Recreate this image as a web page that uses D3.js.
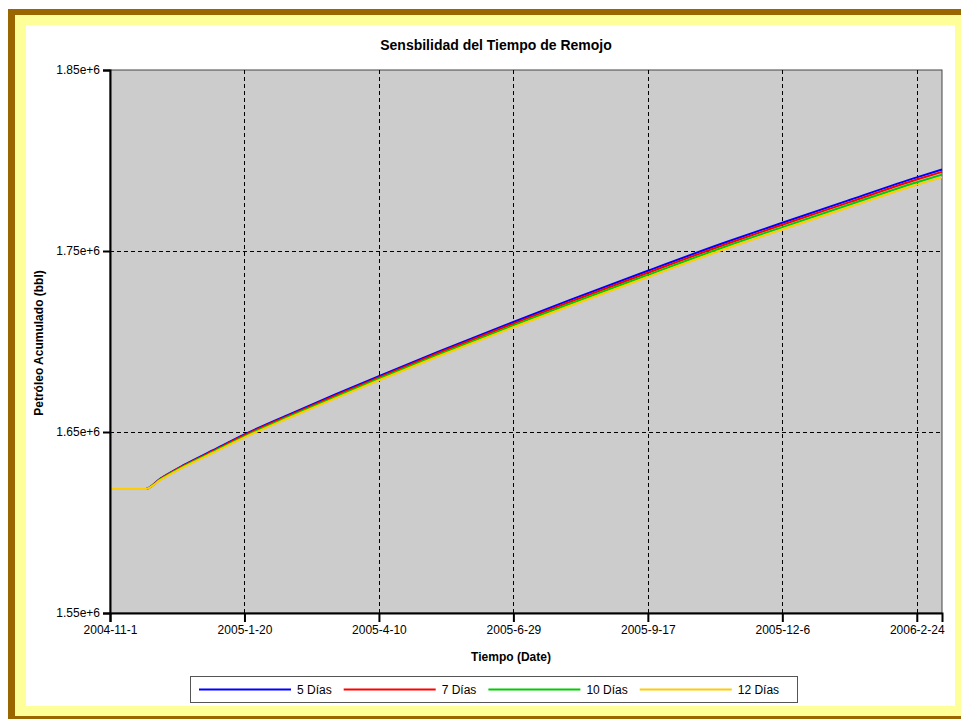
<!DOCTYPE html>
<html lang="es">
<head>
<meta charset="UTF-8">
<title>Sensbilidad del Tiempo de Remojo</title>
<script src="https://d3js.org/d3.v7.min.js"></script>
<style>
  body { margin: 0; background: #fff; }
  svg { display: block; font-family: Arial, "Liberation Sans", sans-serif; }
</style>
</head>
<body>
<div id="chart"></div>
<script>
// datos
const fechas = ["2004-11-01","2004-11-22","2004-12-01","2004-12-15","2005-01-01","2005-01-20",
  "2005-02-15","2005-03-15","2005-04-10","2005-05-15","2005-06-29","2005-08-01","2005-09-17",
  "2005-11-01","2005-12-06","2006-01-15","2006-02-24","2006-03-11"];
const dias5  = [1.6185,1.6185,1.6243,1.6318,1.6398,1.6487,1.6595,1.6707,1.6809,1.6943,1.7108,1.7227,1.7391,1.7544,1.7656,1.7782,1.7907,1.7950];
const dias7  = [1.6185,1.6185,1.6241,1.6315,1.6394,1.6482,1.6589,1.6701,1.6802,1.6935,1.7099,1.7217,1.7380,1.7533,1.7645,1.7770,1.7895,1.7937];
const dias10 = [1.6185,1.6185,1.6238,1.6311,1.6389,1.6476,1.6583,1.6693,1.6794,1.6926,1.7089,1.7206,1.7368,1.7521,1.7632,1.7757,1.7880,1.7922];
const dias12 = [1.6185,1.6185,1.6235,1.6307,1.6384,1.6470,1.6576,1.6686,1.6786,1.6917,1.7079,1.7195,1.7356,1.7508,1.7619,1.7743,1.7866,1.7907];
const nombres = ["5 Días", "7 Días", "10 Días", "12 Días"];
const colores = ["#0000ff", "#ff0000", "#00cc00", "#ffcc00"];
const ticksX = ["2004-11-01","2005-01-20","2005-04-10","2005-06-29","2005-09-17","2005-12-06","2006-02-24"];
const ticksY = [1.55e6, 1.65e6, 1.75e6, 1.85e6];
const fechaFin = "2006-03-11";

const W = 961, H = 719;
const m = { left: 110, right: 942, top: 70, bottom: 613 };
const parse = d3.utcParse("%Y-%m-%d");

const svg = d3.select("#chart").append("svg")
  .attr("width", W).attr("height", H);

// marco
svg.append("rect").attr("x", 8).attr("y", 9).attr("width", 980).attr("height", 720).attr("fill", "#996600");
svg.append("rect").attr("x", 15).attr("y", 15).attr("width", 951).attr("height", 701).attr("fill", "#ffff99");
svg.append("rect").attr("x", 26).attr("y", 25).attr("width", 929).attr("height", 681).attr("fill", "#ffffff");

const x = d3.scaleUtc()
  .domain([parse(fechas[0]), parse(fechaFin)])
  .range([m.left, m.right]);
const y = d3.scaleLinear()
  .domain([ticksY[0], ticksY[ticksY.length - 1]])
  .range([m.bottom, m.top]);

svg.append("rect")
  .attr("x", m.left).attr("y", m.top)
  .attr("width", m.right - m.left).attr("height", m.bottom - m.top)
  .attr("fill", "#cccccc").attr("stroke", "#444").attr("stroke-width", 1);

// rejilla
const grid = svg.append("g").attr("stroke", "#000").attr("stroke-dasharray", "4,3").attr("stroke-width", 1);
grid.selectAll(".gx").data(ticksX.slice(1)).join("line")
  .attr("x1", d => Math.round(x(parse(d))) + 0.5).attr("x2", d => Math.round(x(parse(d))) + 0.5)
  .attr("y1", m.top).attr("y2", m.bottom);
grid.selectAll(".gy").data(ticksY.slice(1, -1)).join("line")
  .attr("y1", d => Math.round(y(d)) + 0.5).attr("y2", d => Math.round(y(d)) + 0.5)
  .attr("x1", m.left).attr("x2", m.right);

// series
const series = [dias5, dias7, dias10, dias12];
const line = d3.line()
  .x((d, i) => x(parse(fechas[i])))
  .y(d => y(d * 1e6))
  .curve(d3.curveMonotoneX);
svg.append("g").selectAll("path").data(series).join("path")
  .attr("d", line)
  .attr("fill", "none")
  .attr("stroke", (d, i) => colores[i])
  .attr("stroke-width", 2);

// ejes
const xAxis = svg.append("g").attr("transform", `translate(0,${m.bottom})`)
  .call(d3.axisBottom(x).tickValues(ticksX.map(parse)).tickSize(9).tickPadding(3)
    .tickFormat(d3.utcFormat("%Y-%-m-%-d")));
const yAxis = svg.append("g").attr("transform", `translate(${m.left},0)`)
  .call(d3.axisLeft(y).tickValues(ticksY).tickSize(7).tickPadding(3)
    .tickFormat(d => (d / 1e6).toFixed(2) + "e+6"));
[xAxis, yAxis].forEach(g => {
  g.select(".domain").attr("stroke", "#000").attr("stroke-width", 2);
  g.selectAll(".tick line").attr("stroke", "#000").attr("stroke-width", 2);
  g.selectAll(".tick text").attr("fill", "#000").style("font-size", "12px")
    .style("font-family", "Arial, 'Liberation Sans', sans-serif");
});

// textos
svg.append("text").attr("x", 496).attr("y", 50).attr("text-anchor", "middle")
  .style("font-size", "14px").style("font-weight", "bold").text("Sensbilidad del Tiempo de Remojo");
svg.append("text").attr("x", 511).attr("y", 661).attr("text-anchor", "middle")
  .style("font-size", "12px").style("font-weight", "bold").text("Tiempo (Date)");
svg.append("text").attr("transform", "translate(43,343) rotate(-90)").attr("text-anchor", "middle")
  .style("font-size", "12px").style("font-weight", "bold").text("Petróleo Acumulado (bbl)");

// leyenda
const leg = svg.append("g");
leg.append("rect").attr("x", 190.5).attr("y", 676.5).attr("width", 607).attr("height", 26)
  .attr("fill", "#fff").attr("stroke", "#555");
let lx = 199;
nombres.forEach((n, i) => {
  leg.append("line").attr("x1", lx).attr("x2", lx + 92).attr("y1", 689.5).attr("y2", 689.5)
    .attr("stroke", colores[i]).attr("stroke-width", 2);
  const t = leg.append("text").attr("x", lx + 98).attr("y", 694).style("font-size", "12px").text(n);
  lx += 98 + t.node().getComputedTextLength() + 12;
});
</script>
</body>
</html>
